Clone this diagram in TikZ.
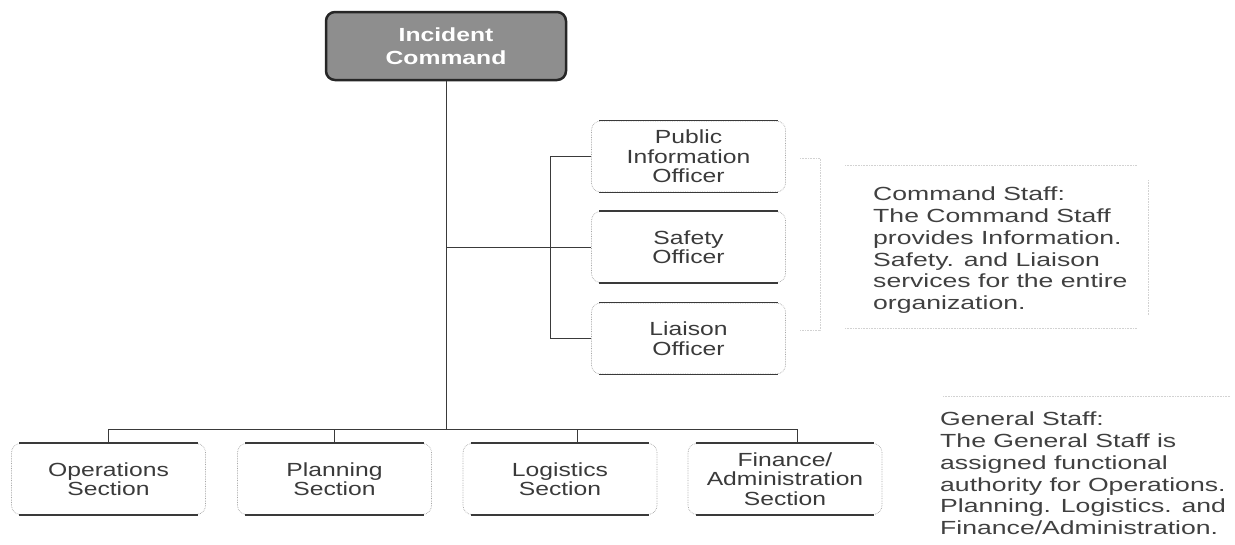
\documentclass[tikz,border=0pt]{standalone}
\usepackage{fontspec}
\setmainfont{Liberation Sans}
\newfontfamily\scanfont{Liberation Sans}[FakeStretch=1.3]
\newfontfamily\notefont{Liberation Sans}[FakeStretch=1.4]
\definecolor{inkgray}{HTML}{3A3A3A}
\definecolor{cmdgray}{HTML}{8E8E8E}
\tikzstyle{unit}=[draw=gray!70, densely dotted, line width=0.7pt, rounded corners=9pt, minimum width=194pt, minimum height=71pt, align=center, inner sep=0pt, text=inkgray, font=\scanfont\fontsize{19}{19.5}\selectfont]
\tikzstyle{command}=[unit, solid, draw=black!85, line width=2.5pt, fill=cmdgray, text=white, minimum width=240pt, minimum height=68pt, font=\scanfont\bfseries\fontsize{19}{23}\selectfont]
\tikzstyle{edge}=[inkgray, line width=1.4pt]
\tikzstyle{link}=[inkgray, line width=0.8pt]
\tikzstyle{note}=[align=left, anchor=north west, inner sep=0pt, text=black!75, font=\notefont\fontsize{19}{21.7}\selectfont]
\tikzstyle{faint}=[gray!35, densely dotted, line width=0.6pt]

\begin{document}
\begin{tikzpicture}[x=1pt, y=-1pt]
  \useasboundingbox (0,0) rectangle (1235,544);
  \node[command] (ic) at (446,46) {Incident\\Command};
  \node[unit] (pio) at (688.5,156.5) {Public\\Information\\Officer};
  \node[unit] (safety) at (688.5,247) {Safety\\Officer};
  \node[unit] (liaison) at (688.5,338.5) {Liaison\\Officer};
  \node[unit] (ops) at (108.5,479) {Operations\\Section};
  \node[unit] (plan) at (334.5,479) {Planning\\Section};
  \node[unit] (logi) at (560,479) {Logistics\\Section};
  \node[unit] (fin) at (785,479) {Finance/\\Administration\\Section};
  \foreach \n in {pio,safety,liaison,ops,plan,logi,fin}
    \draw[edge] ([xshift=8pt]\n.north west) -- ([xshift=-8pt]\n.north east)
      ([xshift=8pt]\n.south west) -- ([xshift=-8pt]\n.south east);
  \coordinate (bus) at (446,429);
  \coordinate (fork) at (550,0);
  \draw[link] (ic.south) -- (ic.south |- bus);
  \draw[link] (ops.north) -- (ops.north |- bus) -- ([xshift=12pt]fin.north |- bus) -- ([xshift=12pt]fin.north);
  \draw[link] (plan.north) -- (plan.north |- bus);
  \draw[link] ([xshift=17pt]logi.north) -- ([xshift=17pt]logi.north |- bus);
  \draw[link] (ic.south |- safety.west) -- (safety.west);
  \draw[link] (pio.west) -- (fork |- pio.west) -- (fork |- liaison.west) -- (liaison.west);
  \node[note] (cmdnote) at (873,187) {Command Staff:\\The Command Staff\\provides Information.\\Safety. and Liaison\\services for the entire\\organization.};
  \node[note] (gennote) at (940,412) {General Staff:\\The General Staff is\\assigned functional\\authority for Operations.\\Planning. Logistics. and\\Finance/Administration.};
  \draw[faint] (845,165) -- (1137,165) (1148,180) -- (1148,315) (845,328) -- (1137,328);
  \draw[faint] (943,396) -- (1230,396);
  \draw[faint] (800,158) -- (820,158) -- (820,330) -- (800,330);
\end{tikzpicture}
\end{document}
